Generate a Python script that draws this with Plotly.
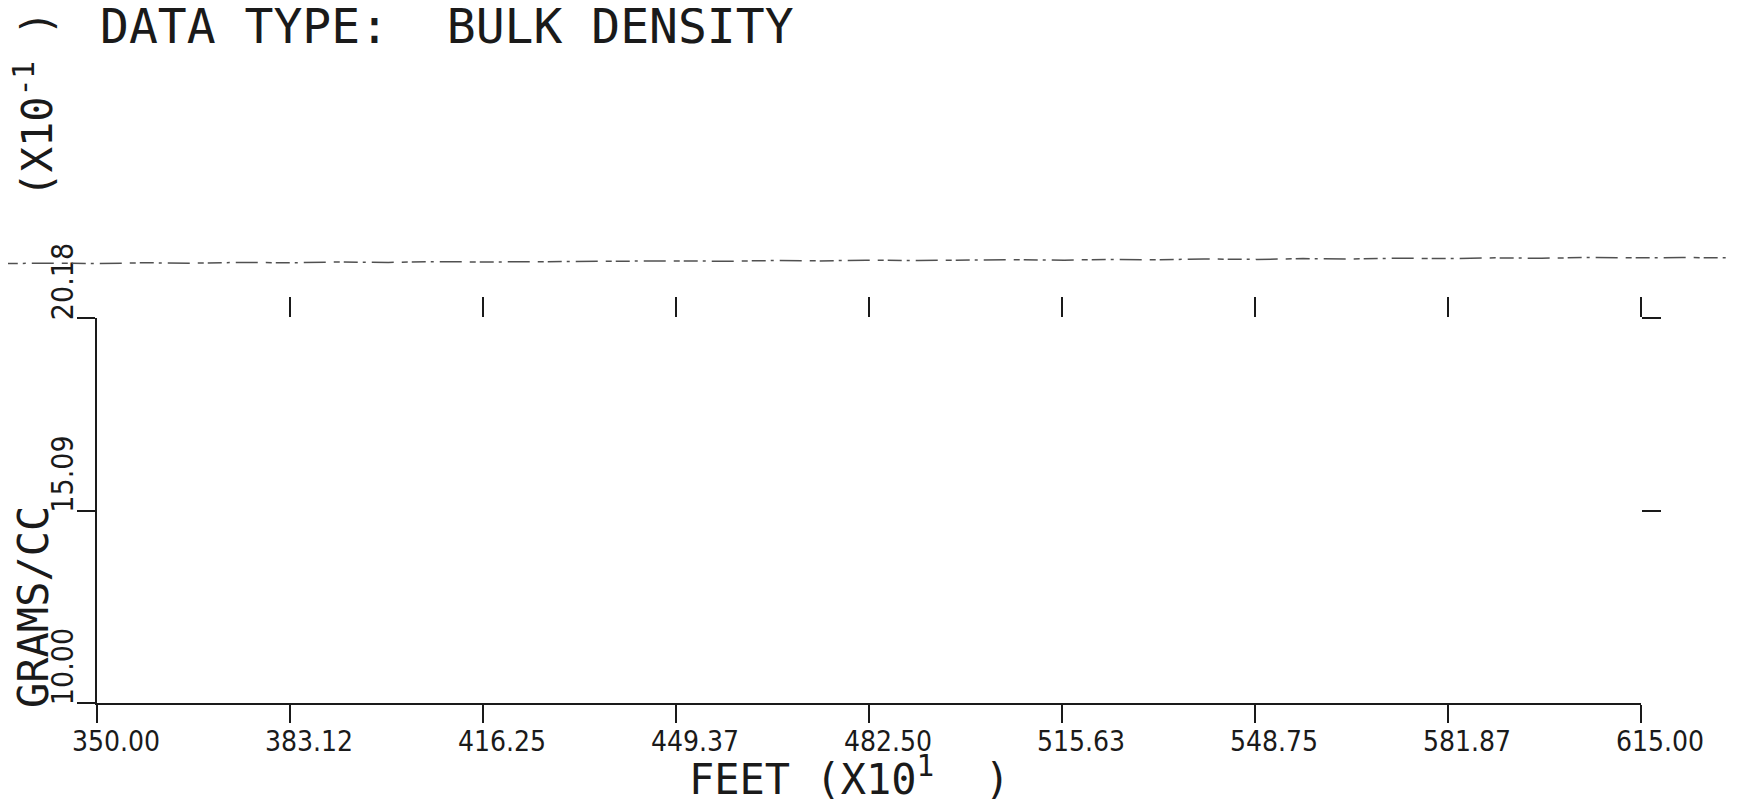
import plotly.graph_objects as go

# ---------------- data ----------------
X_TICKS = [350.00, 383.12, 416.25, 449.37, 482.50, 515.63, 548.75, 581.87, 615.00]
X_TICK_LABELS = ["350.00", "383.12", "416.25", "449.37", "482.50",
                 "515.63", "548.75", "581.87", "615.00"]
Y_TICKS = [10.00, 15.09, 20.18]
Y_TICK_LABELS = ["10.00", "15.09", "20.18"]

# depth (FEET x10^1) and bulk density (GRAMS/CC x10^-1)
DEPTH = [334, 342, 350, 358, 366, 375, 383, 391, 400, 408, 416, 425, 433, 441,
         449, 458, 466, 474, 482, 491, 499, 507, 516, 524, 532, 540, 549, 557,
         565, 573, 582, 590, 598, 606, 615, 622, 630]
DENSITY = [21.62, 21.63, 21.62, 21.64, 21.63, 21.65, 21.64, 21.66, 21.65, 21.67,
           21.66, 21.67, 21.68, 21.67, 21.69, 21.68, 21.70, 21.69, 21.71, 21.70,
           21.71, 21.72, 21.71, 21.73, 21.72, 21.74, 21.73, 21.75, 21.74, 21.76,
           21.75, 21.77, 21.76, 21.78, 21.77, 21.78, 21.77]

TITLE = "DATA TYPE:  BULK DENSITY"
X_TITLE = "FEET (X10<sup>1</sup>  )"
Y_TITLE_MAIN = "GRAMS/CC"
Y_TITLE_SCALE = "(X10<sup>-1</sup> )"

# ---------------- geometry (page pixels) ----------------
PAGE_W, PAGE_H = 1752, 802
OFF = 8                              # default page body margin
W, H = PAGE_W - OFF, PAGE_H - OFF    # figure size


def fx(px):      # page px (from left) -> paper x fraction
    return (px - OFF) / W


def fy(py):      # page px (from top) -> paper y fraction
    return 1 - (py - OFF) / H


PX0, PX1 = 97, 1641      # frame left / right (page px)
PY0, PY1 = 703, 318      # frame bottom / top (page px)

px_per_x = (PX1 - PX0) / (X_TICKS[-1] - X_TICKS[0])
px_per_y = (PY0 - PY1) / (Y_TICKS[-1] - Y_TICKS[0])
full_xrange = [X_TICKS[0] - (PX0 - OFF) / px_per_x,
               X_TICKS[-1] + (PAGE_W - PX1) / px_per_x]
full_yrange = [Y_TICKS[0] - (PAGE_H - PY0) / px_per_y,
               Y_TICKS[-1] + (PY1 - OFF) / px_per_y]

FONT = "DejaVu Sans Mono"
TICK_FONT = "DejaVu Sans Condensed, DejaVu Sans, sans-serif"
INK = "#1a1a1a"

fig = go.Figure()

# data trace on full-figure axes so it can run beyond the frame
fig.add_trace(go.Scatter(
    x=DEPTH, y=DENSITY, mode="lines", xaxis="x2", yaxis="y2",
    line=dict(color="#505050", width=1.5, dash="14px,5px,3px,6px,22px,8px,6px,4px"),
    hoverinfo="skip", showlegend=False))

# empty traces to register the frame subplot and the overlay tick axes
for xa, ya in (("x", "y"), ("x3", "y"), ("x", "y3")):
    fig.add_trace(go.Scatter(x=[None], y=[None], xaxis=xa, yaxis=ya,
                             mode="markers", hoverinfo="skip", showlegend=False))

axis_common = dict(showgrid=False, zeroline=False, color=INK, tickcolor=INK,
                   tickwidth=2, linewidth=2, linecolor=INK, automargin=False)

fig.update_layout(
    template="none",
    width=W, height=H, autosize=False,
    margin=dict(l=0, r=0, t=0, b=0, pad=0, autoexpand=False),
    paper_bgcolor="white", plot_bgcolor="rgba(0,0,0,0)",
    showlegend=False,
    xaxis=dict(domain=[fx(PX0), fx(PX1)], range=[X_TICKS[0], X_TICKS[-1]],
               anchor="y", showline=True, ticks="outside", ticklen=18,
               tickmode="array", tickvals=X_TICKS, ticktext=X_TICK_LABELS,
               tickfont=dict(family=TICK_FONT, size=28, color=INK),
               ticklabelshift=19, ticklabelstandoff=-6, **axis_common),
    yaxis=dict(domain=[fy(PY0), fy(PY1)], range=[Y_TICKS[0], Y_TICKS[-1]],
               anchor="x", showline=True, ticks="outside", ticklen=18,
               tickmode="array", tickvals=Y_TICKS, ticktext=Y_TICK_LABELS,
               tickangle=-90, ticklabelshift=-32, ticklabelstandoff=-8,
               tickfont=dict(family=TICK_FONT, size=30, color=INK), **axis_common),
    xaxis3=dict(overlaying="x", side="top", anchor="y",
                range=[X_TICKS[0], X_TICKS[-1]], showline=False,
                ticks="outside", ticklen=20, tickmode="array", tickvals=X_TICKS[1:],
                showticklabels=False, **axis_common),
    yaxis3=dict(overlaying="y", side="right", anchor="x",
                range=[Y_TICKS[0], Y_TICKS[-1]], showline=False,
                ticks="outside", ticklen=19, tickmode="array", tickvals=Y_TICKS[1:],
                showticklabels=False, **axis_common),
    xaxis2=dict(domain=[0, 1], range=full_xrange, anchor="y2", visible=False,
                automargin=False),
    yaxis2=dict(domain=[0, 1], range=full_yrange, anchor="x2", visible=False,
                automargin=False),
    annotations=[
        dict(text=TITLE, xref="paper", yref="paper", x=fx(98), y=fy(26),
             xanchor="left", yanchor="middle", showarrow=False,
             font=dict(family=FONT, size=48, color=INK)),
        dict(text=X_TITLE, xref="paper", yref="paper", x=fx(687), y=fy(776),
             xanchor="left", yanchor="middle", showarrow=False,
             font=dict(family=FONT, size=42, color=INK)),
        dict(text=Y_TITLE_MAIN, xref="paper", yref="paper", x=fx(33), y=fy(710),
             xanchor="center", yanchor="bottom", textangle=-90, showarrow=False,
             font=dict(family=FONT, size=42, color=INK)),
        dict(text=Y_TITLE_SCALE, xref="paper", yref="paper", x=fx(35), y=fy(200),
             xanchor="center", yanchor="bottom", textangle=-90, showarrow=False,
             font=dict(family=FONT, size=42, color=INK)),
    ],
)

fig.write_html("out.html")
